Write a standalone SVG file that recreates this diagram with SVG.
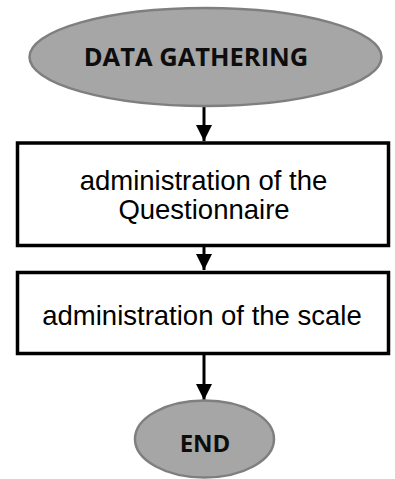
<svg xmlns="http://www.w3.org/2000/svg" width="395" height="479" viewBox="0 0 395 479">
  <style>
    .terminal { fill: #a6a6a6; stroke: #7f7f7f; stroke-width: 2.5; }
    .step { fill: #ffffff; stroke: #000000; stroke-width: 3.5; }
    .title { font-family: "Open Sans", "DejaVu Sans", sans-serif; font-weight: bold; fill: #0d0d0d; text-anchor: middle; }
    .label { font-family: "Liberation Sans", Arial, sans-serif; font-size: 27.5px; fill: #000000; text-anchor: middle; }
    .flow { stroke: #000000; stroke-width: 3; fill: none; }
  </style>
  <defs>
    <marker id="arrow" viewBox="0 0 16 16" refX="16" refY="8" markerWidth="16" markerHeight="16" markerUnits="userSpaceOnUse" orient="auto">
      <path d="M0,0 L16,8 L0,16 Z" fill="#000000"/>
    </marker>
  </defs>

  <g id="connectors">
    <line class="flow" x1="204" y1="106" x2="204" y2="141" marker-end="url(#arrow)"/>
    <line class="flow" x1="204" y1="247" x2="204" y2="270" marker-end="url(#arrow)"/>
    <line class="flow" x1="204" y1="355" x2="204" y2="400" marker-end="url(#arrow)"/>
  </g>

  <g id="data-gathering">
    <ellipse class="terminal" cx="205.5" cy="57" rx="176" ry="49"/>
    <text class="title" x="196" y="66" font-size="25.5">DATA GATHERING</text>
  </g>

  <g id="questionnaire">
    <rect class="step" x="17.5" y="143" width="371" height="102.5"/>
    <text class="label" x="203.5" y="189.5">administration of the</text>
    <text class="label" x="204" y="219">Questionnaire</text>
  </g>

  <g id="scale">
    <rect class="step" x="17.5" y="272.5" width="371" height="81"/>
    <text class="label" x="202" y="325">administration of the scale</text>
  </g>

  <g id="end">
    <ellipse class="terminal" cx="204.5" cy="439" rx="69.5" ry="38.5"/>
    <text class="title" x="205" y="452" font-size="24">END</text>
  </g>
</svg>
